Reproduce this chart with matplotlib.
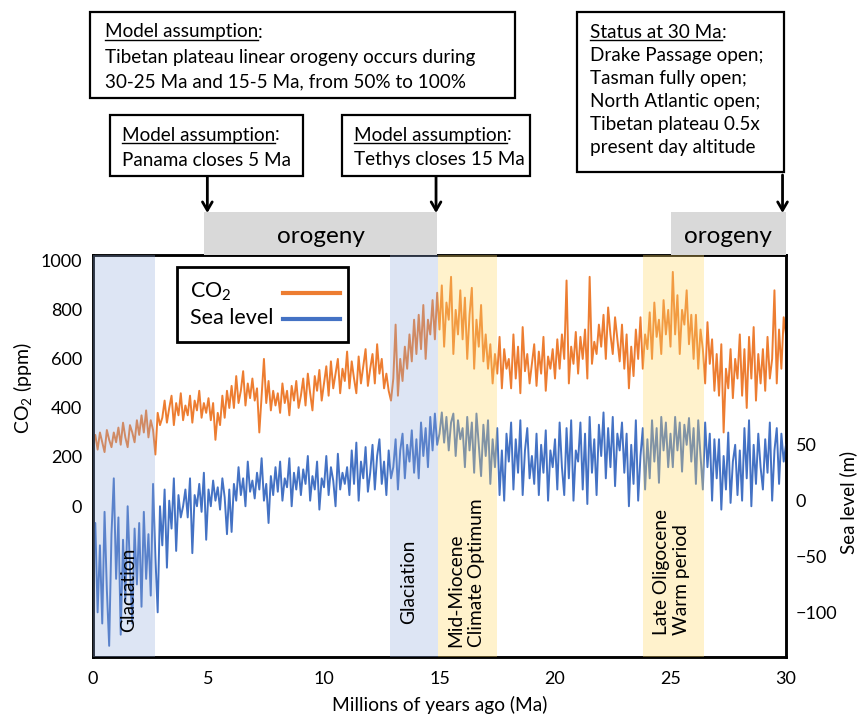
import matplotlib
matplotlib.use('Agg')
import matplotlib.pyplot as plt
import numpy as np
from matplotlib.patches import Rectangle
from matplotlib.lines import Line2D
from matplotlib.transforms import blended_transform_factory

plt.rcParams['font.family'] = ['Lato', 'DejaVu Sans']
plt.rcParams['mathtext.fontset'] = 'custom'
plt.rcParams['mathtext.rm'] = 'Lato'
plt.rcParams['mathtext.it'] = 'Lato:italic'
plt.rcParams['mathtext.bf'] = 'Lato:bold'

# ---------------- data ----------------
time_ma = np.round(np.arange(0, 30.05, 0.1), 1)

co2_ppm = [
    250, 290, 230, 300, 260, 220, 310, 270, 240, 300,
    260, 320, 250, 340, 280, 240, 330, 300, 260, 350,
    290, 370, 300, 390, 280, 350, 310, 210, 380, 330,
    360, 430, 340, 400, 450, 330, 420, 370, 460, 350,
    410, 370, 450, 340, 430, 390, 470, 360, 420, 380,
    440, 350, 420, 270, 380, 330, 450, 360, 470, 400,
    490, 400, 530, 420, 470, 550, 410, 500, 440, 520,
    430, 480, 300, 450, 600, 420, 510, 390, 470, 410,
    460, 380, 500, 420, 470, 370, 490, 430, 510, 400,
    450, 520, 410, 540, 460, 390, 530, 470, 555, 430,
    500, 570, 450, 590, 480, 540, 600, 460, 560, 510,
    630, 480, 590, 520, 460, 610, 500, 570, 640, 490,
    560, 620, 500, 660, 540, 600, 480, 540, 470, 430,
    520, 740, 450, 600, 510, 650, 560, 700, 590, 760,
    620, 780, 640, 820, 600, 760, 700, 840, 680, 870,
    720, 900, 650, 830, 760, 935, 620, 800, 700, 880,
    680, 850, 600, 780, 890, 560, 760, 650, 820, 590,
    700, 560, 660, 500, 620, 540, 690, 480, 640, 560,
    600, 480, 700, 520, 650, 460, 730, 550, 620, 500,
    580, 660, 490, 630, 540, 690, 470, 610, 560, 640,
    520, 680, 560, 700, 600, 920, 500, 650, 580, 710,
    540, 690, 600, 720, 520, 935, 580, 670, 620, 740,
    650, 780, 600, 810, 700, 620, 770, 680, 590, 740,
    560, 700, 480, 650, 530, 720, 600, 770, 560, 700,
    640, 790, 600, 830, 690, 760, 620, 840, 700, 800,
    650, 955, 700, 860, 620, 800, 740, 880, 660, 780,
    600, 780, 560, 720, 640, 500, 750, 580, 680, 470,
    620, 450, 660, 300, 560, 480, 640, 440, 600, 520,
    700, 450, 640, 400, 690, 520, 730, 430, 620, 500,
    640, 470, 690, 520, 600, 880, 500, 720, 560, 770,
    700,
]

sea_level_m = [
    -60, -20, -100, -40, -110, -10, -80, -130, -30, 20,
    -70, -15, -120, -35, -90, -5, -60, -110, -25, -75,
    -20, -95, -10, -70, -30, -85, 15, -50, -100, -5,
    -40, 10, -60, 0, -25, 20, -45, 5, -15, -5,
    10, -15, 20, -47, 5, -5, 15, -10, 25, -35,
    10, -5, 18, 0, 12, -8, 20, 3, -30, 10,
    -28, 15, 0, 30, 5, 20, -5, 35, 8, 18,
    2, 25, 10, 38, 0, 15, -20, 22, 5, 30,
    8, 35, 0, 20, 12, 38, -5, 25, 10, 30,
    5, 28, 15, 40, 0, 22, 10, 35, -8, 20,
    12, 40, 5, 30, 18, -5, 42, 10, 25, 15,
    30, 5, 45, 15, 52, 0, 35, 20, 48, 8,
    25, 50, 10, 40, 55, 15, 35, 5, 45, 20,
    30, 55, 10, 45, 60, 20, 50, 35, 63, 25,
    55, 20, 70, 40, 65, 30, 75, 45, 78, 50,
    60, 79, 52, 75, 45, 70, 78, 40, 72, 55,
    65, 30, 75, 45, 70, 25, 78, 50, 22, 68,
    40, 72, 15, 55, 30, 65, 5, 45, 0, 60,
    35, 70, 10, 55, 25, 72, 5, 45, 65, 20,
    40, 15, 60, 5, 50, 25, 63, 0, 45, 30,
    55, 10, 70, 30, 5, 65, 20, 72, 0, 45,
    35, 70, 10, 60, -3, 75, 25, 55, 5, 68,
    40, 79, 20, 65, 30, 75, 13, 60, 45, 70,
    25, 60, -5, 50, 15, 72, 0, 40, 65, 10,
    55, 20, 72, 35, 65, 16, 75, 45, 70, 30,
    60, 30, 75, 45, 70, 26, 68, 50, 74, 35,
    65, 15, 72, 40, 10, 70, 30, 60, 0, 55,
    20, 55, -8, 40, 10, 61, -2, 35, 50, 5,
    45, 0, 65, 20, 72, -5, 50, 15, 60, 30,
    10, 55, 25, 70, 0, 45, 65, 15, 60, 35,
    50,
]

x_ticks = [0, 5, 10, 15, 20, 25, 30]
co2_ticks = [0, 200, 400, 600, 800, 1000]
sea_ticks = [-100, -50, 0, 50]

glaciation_bands = [(0, 2.7), (12.85, 14.95)]
warm_bands = [(14.95, 17.5), (23.8, 26.45)]
orogeny_bars = [(4.8, 14.9), (25.0, 30.0)]
arrow_x = [4.95, 14.85, 29.85]

# ---------------- figure ----------------
W, H = 857, 716
fig = plt.figure(figsize=(W / 100, H / 100), dpi=100)


def fx(px):
    return px / W


def fy(py):
    return 1 - py / H


AX_L, AX_R, AX_T, AX_B = 93, 786, 255, 657
ax = fig.add_axes([fx(AX_L), fy(AX_B), fx(AX_R) - fx(AX_L), fy(AX_T) - fy(AX_B)])
ax2 = ax.twinx()

ORANGE = '#ed7d31'
BLUE = '#4472c4'

ax.plot(time_ma, co2_ppm, color=ORANGE, lw=1.4, zorder=2)
ax2.plot(time_ma, sea_level_m, color=BLUE, lw=1.4, zorder=2)

ax.set_xlim(0, 30)
ax.set_ylim(-616, 1024)
ax2.set_ylim(-140, 220)
ax.set_xticks(x_ticks)
ax.set_yticks(co2_ticks)
ax2.set_yticks(sea_ticks)

for a in (ax, ax2):
    for s in a.spines.values():
        s.set_linewidth(1.8)
        s.set_color('black')
ax.tick_params(axis='both', length=0, labelsize=13)
ax.tick_params(axis='y', pad=8)
ax.tick_params(axis='x', pad=10)
ax2.tick_params(axis='y', length=0, labelsize=13, pad=7)

for (a0, a1) in glaciation_bands:
    ax2.axvspan(a0, a1, color='#8faadc', alpha=0.3, lw=0, zorder=5)
for (a0, a1) in warm_bands:
    ax2.axvspan(a0, a1, color='#ffd966', alpha=0.33, lw=0, zorder=5)

bt = blended_transform_factory(ax2.transData, fig.transFigure)
band_fs = 13.8
ax2.text(1.56, fy(590), 'Glaciation', rotation=90, ha='center', va='center',
         transform=bt, fontsize=band_fs, zorder=6)
ax2.text(13.65, fy(582), 'Glaciation', rotation=90, ha='center', va='center',
         transform=bt, fontsize=band_fs, zorder=6)
ax2.text(16.15, fy(573), 'Mid-Miocene\nClimate Optimum', rotation=90, ha='center',
         va='center', multialignment='left', transform=bt, fontsize=band_fs,
         linespacing=1.25, zorder=6)
ax2.text(25.05, fy(572), 'Late Oligocene\nWarm period', rotation=90, ha='center',
         va='center', multialignment='left', transform=bt, fontsize=band_fs,
         linespacing=1.25, zorder=6)

# axis labels
fig.text(fx(439.5), fy(705), 'Millions of years ago (Ma)', ha='center', va='center',
         fontsize=13.8)
fig.text(fx(23), fy(388), 'CO$_\\mathregular{2}$ (ppm)', rotation=90, ha='center',
         va='center', fontsize=14)
fig.text(fx(848), fy(502), 'Sea level (m)', rotation=90, ha='center', va='center',
         fontsize=13.5)

# orogeny bars above axes
ft = blended_transform_factory(ax.transData, fig.transFigure)
for (b0, b1) in orogeny_bars:
    fig.add_artist(Rectangle((b0, fy(AX_T)), b1 - b0, fy(212) - fy(AX_T), transform=ft,
                             facecolor='#d9d9d9', edgecolor='none', clip_on=False,
                             zorder=1))
    fig.text((b0 + b1) / 2, fy(236), 'orogeny', transform=ft, ha='center',
             va='center', fontsize=17.5, zorder=3)

for xa in arrow_x:
    ax.annotate('', xy=(xa, fy(213)), xytext=(xa, fy(175)), xycoords=ft,
                textcoords=ft, annotation_clip=False,
                arrowprops=dict(arrowstyle='->,head_length=0.6,head_width=0.35',
                                lw=2, color='black', shrinkA=0, shrinkB=0))

# ---------------- text boxes ----------------
r = fig.canvas.get_renderer()


def text_w(s, fs):
    t = fig.text(0, 0, s, fontsize=fs)
    w = t.get_window_extent(renderer=r).width
    t.remove()
    return w


box_fs = 12 * 369 / text_w('Tibetan plateau linear orogeny occurs during', 12)


def box(x0, y0, x1, y1):
    fig.add_artist(Rectangle((fx(x0), fy(y1)), fx(x1) - fx(x0), fy(y0) - fy(y1),
                             transform=fig.transFigure, facecolor='white',
                             edgecolor='black', lw=1.6, zorder=2))


def line(x, yc, s, under=None):
    yb = yc + 5.5
    if under:
        t = fig.text(fx(x), fy(yb), under, ha='left', va='baseline', fontsize=box_fs,
                     zorder=3)
        w = t.get_window_extent(renderer=r).width
        fig.add_artist(Line2D([fx(x), fx(x + w)], [fy(yb + 2.5), fy(yb + 2.5)],
                              transform=fig.transFigure, color='black', lw=1.0,
                              zorder=3))
        fig.text(fx(x + w), fy(yb), s, ha='left', va='baseline', fontsize=box_fs,
                 zorder=3)
    else:
        fig.text(fx(x), fy(yb), s, ha='left', va='baseline', fontsize=box_fs, zorder=3)


box(90, 12, 515, 98)
line(105, 32, ':', under='Model assumption')
line(105, 57, 'Tibetan plateau linear orogeny occurs during')
line(105, 82, '30-25 Ma and 15-5 Ma, from 50% to 100%')

box(110, 115, 303, 176)
line(122, 135, ':', under='Model assumption')
line(122, 160, 'Panama closes 5 Ma')

box(342, 115, 530, 176)
line(354, 135, ':', under='Model assumption')
line(354, 160, 'Tethys closes 15 Ma')

box(577, 12, 784, 172)
status_lines = ['Drake Passage open;', 'Tasman fully open;', 'North Atlantic open;',
                'Tibetan plateau 0.5x', 'present day altitude']
line(590, 32, ':', under='Status at 30 Ma')
for i, s in enumerate(status_lines):
    line(590, 56 + 22.8 * i, s)

# ---------------- legend ----------------
fig.add_artist(Rectangle((fx(177), fy(342)), fx(348) - fx(177), fy(267) - fy(342),
                         transform=fig.transFigure, facecolor='white',
                         edgecolor='black', lw=2, zorder=4))
fig.text(fx(190), fy(292), 'CO$_\\mathregular{2}$', ha='left', va='center',
         fontsize=15.5, zorder=5)
fig.text(fx(190), fy(318), 'Sea level', ha='left', va='center', fontsize=15.5,
         zorder=5)
fig.add_artist(Line2D([fx(283), fx(340)], [fy(293), fy(293)], transform=fig.transFigure,
                      color=ORANGE, lw=3, zorder=5))
fig.add_artist(Line2D([fx(283), fx(340)], [fy(319), fy(319)], transform=fig.transFigure,
                      color=BLUE, lw=3, zorder=5))

fig.savefig('out.png', dpi=100)
